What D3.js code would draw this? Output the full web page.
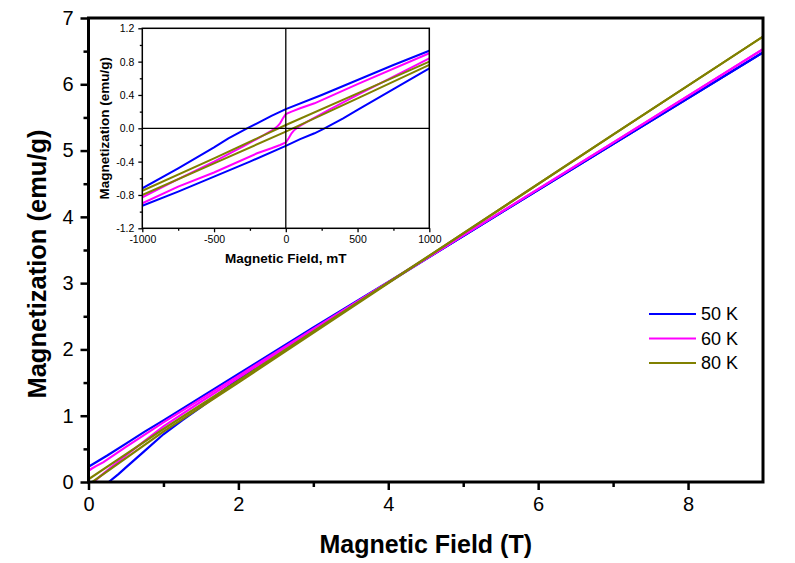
<!DOCTYPE html>
<html>
<head>
<meta charset="utf-8">
<script src="https://cdn.jsdelivr.net/npm/d3@7"></script>
<style>
  body { margin: 0; background: #fff; }
  svg { font-family: "Liberation Sans", Arial, sans-serif; }
</style>
</head>
<body>
<div class="mhchart"></div>
<script>
// temperatures and colours
const temps = ["50 K", "60 K", "80 K"];
const colors = ["#0000ff", "#ff00ff", "#808000"];

// [field (T), magnetization (emu/g)], branch coming down from +9 T
const down50 = [[9, 6.48], [7, 5.10], [5, 3.71], [4, 3.02], [3, 2.33], [2, 1.63], [1.5, 1.28], [1, 0.93],
  [0.75, 0.76], [0.5, 0.58], [0.25, 0.40], [0, 0.23], [-0.1, 0.15], [-0.2, 0.06], [-0.27, 0.0],
  [-0.4, -0.12], [-0.5, -0.23], [-0.75, -0.48], [-1, -0.72]];
// branch going back up from -1 T
const up50 = [[-1, -0.93], [-0.75, -0.76], [-0.5, -0.58], [-0.25, -0.40], [0, -0.21], [0.1, -0.13],
  [0.2, -0.06], [0.27, 0.0], [0.4, 0.12], [0.5, 0.22], [0.75, 0.47], [1, 0.72], [1.25, 0.93],
  [1.5, 1.13], [2, 1.55], [2.5, 1.95], [3, 2.30], [4, 3.01], [5, 3.71], [7, 5.10], [9, 6.48]];

const down60 = [[9, 6.53], [7, 5.12], [5, 3.72], [3, 2.31], [2, 1.60], [1, 0.90], [0.5, 0.53],
  [0.2, 0.30], [0.1, 0.24], [0.04, 0.20], [0, 0.17], [-0.02, 0.12], [-0.04, 0.06], [-0.06, 0.02],
  [-0.09, -0.02], [-0.15, -0.08], [-0.3, -0.22], [-0.5, -0.40], [-0.75, -0.61], [-1, -0.83]];
const up60 = [[-1, -0.90], [-0.75, -0.70], [-0.5, -0.53], [-0.2, -0.30], [-0.1, -0.24], [-0.04, -0.20],
  [0, -0.17], [0.02, -0.12], [0.04, -0.06], [0.06, -0.02], [0.09, 0.02], [0.15, 0.08], [0.3, 0.22],
  [0.5, 0.40], [0.75, 0.62], [1, 0.84], [1.5, 1.21], [2, 1.57], [3, 2.30], [5, 3.72], [7, 5.12], [9, 6.53]];

const down80 = [[9, 6.72], [7, 5.24], [5, 3.75], [3, 2.27], [2, 1.53], [1, 0.80], [0.5, 0.42],
  [0, 0.04], [-0.5, -0.36], [-1, -0.75]];
const up80 = [[-1, -0.80], [-0.5, -0.42], [0, -0.04], [0.5, 0.36], [1, 0.76], [2, 1.50], [3, 2.25],
  [5, 3.75], [7, 5.24], [9, 6.72]];

const loops = [[down50, up50], [down60, up60], [down80, up80]];

// tick values
const mainXTicks = [0, 2, 4, 6, 8];
const mainXMinor = [1, 3, 5, 7];
const mainYTicks = [0, 1, 2, 3, 4, 5, 6, 7];
const mainYMinor = [0.5, 1.5, 2.5, 3.5, 4.5, 5.5, 6.5];
const insetXTicks = [-1000, -500, 0, 500, 1000];
const insetXMinor = [-750, -250, 250, 750];
const insetYTicks = [-1.2, -0.8, -0.4, 0.0, 0.4, 0.8, 1.2];
const insetYMinor = [-1.0, -0.6, -0.2, 0.2, 0.6, 1.0];

const W = 795, H = 563;
const margin = {top: 18, right: 32, bottom: 81, left: 88.5},
    width = W - margin.left - margin.right,
    height = H - margin.top - margin.bottom;

const svg = d3.select(".mhchart")
  .append("svg")
    .attr("width", W)
    .attr("height", H);

const g = svg.append("g")
    .attr("transform", "translate(" + margin.left + "," + margin.top + ")");

const x = d3.scaleLinear().domain([0, 9]).range([0, width]);
const y = d3.scaleLinear().domain([0, 7]).range([height, 0]);

svg.append("defs").append("clipPath").attr("id", "mainclip")
  .append("rect").attr("width", width).attr("height", height);

// axes
function styleAxis(sel, w) {
  sel.select(".domain").remove();
  sel.selectAll(".tick line").attr("stroke", "#000").attr("stroke-width", w);
}

g.append("g")
    .attr("transform", "translate(0," + height + ")")
    .call(d3.axisBottom(x).tickValues(mainXTicks).tickSize(8).tickSizeOuter(0).tickPadding(7)
      .tickFormat(d => String(d)))
    .call(s => styleAxis(s, 2.5))
    .selectAll("text").style("font-size", "20px").attr("fill", "#000");
g.append("g")
    .attr("transform", "translate(0," + height + ")")
    .call(d3.axisBottom(x).tickValues(mainXMinor).tickSize(5).tickFormat(""))
    .call(s => styleAxis(s, 2.5));
g.append("g")
    .call(d3.axisLeft(y).tickValues(mainYTicks).tickSize(8).tickSizeOuter(0).tickPadding(7)
      .tickFormat(d => String(d)))
    .call(s => styleAxis(s, 2.5))
    .selectAll("text").style("font-size", "20px").attr("fill", "#000");
g.append("g")
    .call(d3.axisLeft(y).tickValues(mainYMinor).tickSize(5).tickFormat(""))
    .call(s => styleAxis(s, 2.5));

const line = d3.line().x(d => x(d[0])).y(d => y(d[1]));

const plot = g.append("g").attr("clip-path", "url(#mainclip)");
loops.forEach((branches, i) => {
  plot.selectAll(null)
    .data(branches)
    .enter()
    .append("path")
      .attr("d", line)
      .attr("fill", "none")
      .attr("stroke", colors[i])
      .attr("stroke-width", 2.2);
});

g.append("rect")
    .attr("width", width)
    .attr("height", height)
    .attr("fill", "none")
    .attr("stroke", "#000")
    .attr("stroke-width", 3);

// axis titles
svg.append("text")
    .attr("text-anchor", "middle")
    .attr("x", margin.left + width / 2)
    .attr("y", 553)
    .style("font-size", "25px")
    .style("font-weight", "bold")
    .text("Magnetic Field (T)");

svg.append("text")
    .attr("text-anchor", "middle")
    .attr("transform", "translate(46,264) rotate(-90)")
    .style("font-size", "25.5px")
    .style("font-weight", "bold")
    .text("Magnetization (emu/g)");

// legend
const legend = svg.append("g").attr("transform", "translate(649,314)");
temps.forEach((t, i) => {
  legend.append("line")
      .attr("x1", 0).attr("x2", 47)
      .attr("y1", i * 24.5).attr("y2", i * 24.5)
      .attr("stroke", colors[i])
      .attr("stroke-width", 2.2);
  legend.append("text")
      .attr("x", 52)
      .attr("y", i * 24.5)
      .attr("dy", "0.35em")
      .style("font-size", "18px")
      .text(t);
});

// inset
const ins = {left: 142.3, top: 28.3, width: 287, height: 200};
const ig = svg.append("g")
    .attr("transform", "translate(" + ins.left + "," + ins.top + ")");

const xi = d3.scaleLinear().domain([-1000, 1000]).range([0, ins.width]);
const yi = d3.scaleLinear().domain([-1.2, 1.2]).range([ins.height, 0]);

svg.select("defs").append("clipPath").attr("id", "insetclip")
  .append("rect").attr("width", ins.width).attr("height", ins.height);

ig.append("rect")
    .attr("width", ins.width)
    .attr("height", ins.height)
    .attr("fill", "#fff");

ig.append("g")
    .attr("transform", "translate(0," + ins.height + ")")
    .call(d3.axisBottom(xi).tickValues(insetXTicks).tickSize(4).tickSizeOuter(0).tickPadding(3)
      .tickFormat(d => String(d)))
    .call(s => styleAxis(s, 1.3))
    .selectAll("text").style("font-size", "10.5px").attr("fill", "#000");
ig.append("g")
    .attr("transform", "translate(0," + ins.height + ")")
    .call(d3.axisBottom(xi).tickValues(insetXMinor).tickSize(2.5).tickFormat(""))
    .call(s => styleAxis(s, 1.3));
ig.append("g")
    .call(d3.axisLeft(yi).tickValues(insetYTicks).tickSize(4).tickSizeOuter(0).tickPadding(4)
      .tickFormat(d => d.toFixed(1)))
    .call(s => styleAxis(s, 1.3))
    .selectAll("text").style("font-size", "10.5px").attr("fill", "#000");
ig.append("g")
    .call(d3.axisLeft(yi).tickValues(insetYMinor).tickSize(2.5).tickFormat(""))
    .call(s => styleAxis(s, 1.3));

const iline = d3.line().x(d => xi(d[0] * 1000)).y(d => yi(d[1]));
const iplot = ig.append("g").attr("clip-path", "url(#insetclip)");
loops.forEach((branches, i) => {
  iplot.selectAll(null)
    .data(branches)
    .enter()
    .append("path")
      .attr("d", iline)
      .attr("fill", "none")
      .attr("stroke", colors[i])
      .attr("stroke-width", 2);
});

// zero lines
ig.append("line")
    .attr("x1", xi(0)).attr("x2", xi(0))
    .attr("y1", 0).attr("y2", ins.height)
    .attr("stroke", "#000").attr("stroke-width", 1.3);
ig.append("line")
    .attr("x1", 0).attr("x2", ins.width)
    .attr("y1", yi(0)).attr("y2", yi(0))
    .attr("stroke", "#000").attr("stroke-width", 1.3);

ig.append("rect")
    .attr("width", ins.width)
    .attr("height", ins.height)
    .attr("fill", "none")
    .attr("stroke", "#000")
    .attr("stroke-width", 1.5);

svg.append("text")
    .attr("text-anchor", "middle")
    .attr("x", ins.left + ins.width / 2)
    .attr("y", 263)
    .style("font-size", "13.5px")
    .style("font-weight", "bold")
    .text("Magnetic Field, mT");

svg.append("text")
    .attr("text-anchor", "middle")
    .attr("transform", "translate(109," + (ins.top + ins.height / 2) + ") rotate(-90)")
    .style("font-size", "13.5px")
    .style("font-weight", "bold")
    .text("Magnetization (emu/g)");
</script>
</body>
</html>
